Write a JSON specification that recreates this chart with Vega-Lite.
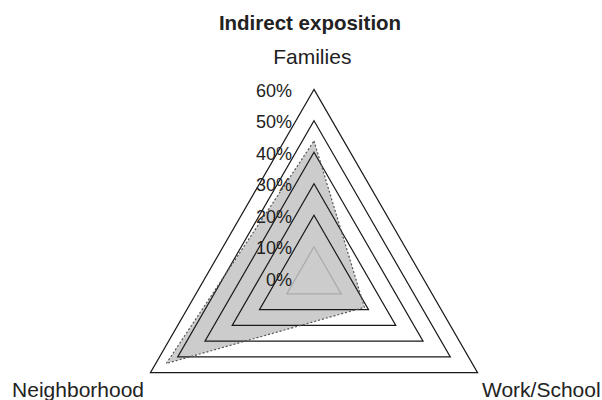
{
  "$schema": "https://vega.github.io/schema/vega-lite/v6.json",
  "width": 602,
  "height": 360,
  "autosize": {"type": "none"},
  "padding": {"top": 40, "left": 0, "right": 0, "bottom": 0},
  "background": "white",
  "title": {"text": "Indirect exposition", "font": "Liberation Sans", "fontSize": 20.5, "fontWeight": "bold", "color": "#222222", "anchor": "middle", "frame": "group", "dx": 9, "dy": 22, "offset": 12, "baseline": "alphabetic"},
  "config": {"view": {"stroke": null}, "text": {"font": "Liberation Sans", "color": "#222222"}},
  "datasets": {
    "axes": [
      {"axis": "Families", "angle": 90, "ord": 0},
      {"axis": "Work/School", "angle": -30, "ord": 1},
      {"axis": "Neighborhood", "angle": 210, "ord": 2}
    ],
    "scores": [
      {"axis": "Families", "value": 43.6},
      {"axis": "Work/School", "value": 18.5},
      {"axis": "Neighborhood", "value": 54.2}
    ],
    "grid": [
      {"level": 10, "axis": "Families"}, {"level": 10, "axis": "Work/School"}, {"level": 10, "axis": "Neighborhood"},
      {"level": 20, "axis": "Families"}, {"level": 20, "axis": "Work/School"}, {"level": 20, "axis": "Neighborhood"},
      {"level": 30, "axis": "Families"}, {"level": 30, "axis": "Work/School"}, {"level": 30, "axis": "Neighborhood"},
      {"level": 40, "axis": "Families"}, {"level": 40, "axis": "Work/School"}, {"level": 40, "axis": "Neighborhood"},
      {"level": 50, "axis": "Families"}, {"level": 50, "axis": "Work/School"}, {"level": 50, "axis": "Neighborhood"},
      {"level": 60, "axis": "Families"}, {"level": 60, "axis": "Work/School"}, {"level": 60, "axis": "Neighborhood"}
    ],
    "ticks": [
      {"level": 0, "label": "0%"}, {"level": 10, "label": "10%"}, {"level": 20, "label": "20%"},
      {"level": 30, "label": "30%"}, {"level": 40, "label": "40%"}, {"level": 50, "label": "50%"},
      {"level": 60, "label": "60%"}
    ]
  },
  "encoding": {
    "x": {"field": "px", "type": "quantitative", "scale": {"domain": [-99.75, 91.49], "nice": false, "zero": false}, "axis": null},
    "y": {"field": "py", "type": "quantitative", "scale": {"domain": [-38.69, 75.67], "nice": false, "zero": false}, "axis": null}
  },
  "layer": [
    {
      "data": {"name": "scores"},
      "transform": [
        {"lookup": "axis", "from": {"data": {"name": "axes"}, "key": "axis", "fields": ["angle", "ord"]}},
        {"calculate": "datum.value*cos(datum.angle*PI/180)", "as": "px"},
        {"calculate": "datum.value*sin(datum.angle*PI/180)", "as": "py"}
      ],
      "mark": {"type": "line", "interpolate": "linear-closed", "fill": "#cccccc", "stroke": null, "strokeWidth": 0},
      "encoding": {"order": {"field": "ord", "type": "quantitative"}}
    },
    {
      "data": {"name": "grid"},
      "transform": [
        {"lookup": "axis", "from": {"data": {"name": "axes"}, "key": "axis", "fields": ["angle", "ord"]}},
        {"calculate": "datum.level*cos(datum.angle*PI/180)", "as": "px"},
        {"calculate": "datum.level*sin(datum.angle*PI/180)", "as": "py"}
      ],
      "mark": {"type": "line", "interpolate": "linear-closed", "strokeWidth": 1.2},
      "encoding": {
        "detail": {"field": "level", "type": "nominal"},
        "order": {"field": "ord", "type": "quantitative"},
        "color": {"condition": {"test": "datum.level == 10", "value": "#aaaaaa"}, "value": "#1a1a1a"}
      }
    },
    {
      "data": {"name": "scores"},
      "transform": [
        {"lookup": "axis", "from": {"data": {"name": "axes"}, "key": "axis", "fields": ["angle", "ord"]}},
        {"calculate": "datum.value*cos(datum.angle*PI/180)", "as": "px"},
        {"calculate": "datum.value*sin(datum.angle*PI/180)", "as": "py"}
      ],
      "mark": {"type": "line", "interpolate": "linear-closed", "stroke": "#555555", "strokeWidth": 1.2, "strokeDash": [2, 2]},
      "encoding": {"order": {"field": "ord", "type": "quantitative"}}
    },
    {
      "data": {"name": "ticks"},
      "transform": [
        {"calculate": "0", "as": "px"},
        {"calculate": "datum.level", "as": "py"}
      ],
      "mark": {"type": "text", "align": "right", "baseline": "middle", "dx": -22, "dy": 2.5, "fontSize": 18},
      "encoding": {"text": {"field": "label", "type": "nominal"}}
    },
    {
      "data": {"name": "axes"},
      "transform": [
        {"filter": "datum.axis == 'Families'"},
        {"calculate": "60*cos(datum.angle*PI/180)", "as": "px"},
        {"calculate": "60*sin(datum.angle*PI/180)", "as": "py"}
      ],
      "mark": {"type": "text", "align": "center", "baseline": "alphabetic", "dx": -1.7, "dy": -25.3, "fontSize": 21},
      "encoding": {"text": {"field": "axis", "type": "nominal"}}
    },
    {
      "data": {"name": "axes"},
      "transform": [
        {"filter": "datum.axis == 'Neighborhood'"},
        {"calculate": "60*cos(datum.angle*PI/180)", "as": "px"},
        {"calculate": "60*sin(datum.angle*PI/180)", "as": "py"}
      ],
      "mark": {"type": "text", "align": "right", "baseline": "alphabetic", "dx": -6.4, "dy": 24, "fontSize": 21},
      "encoding": {"text": {"field": "axis", "type": "nominal"}}
    },
    {
      "data": {"name": "axes"},
      "transform": [
        {"filter": "datum.axis == 'Work/School'"},
        {"calculate": "60*cos(datum.angle*PI/180)", "as": "px"},
        {"calculate": "60*sin(datum.angle*PI/180)", "as": "py"}
      ],
      "mark": {"type": "text", "align": "left", "baseline": "alphabetic", "dx": 4.4, "dy": 24.7, "fontSize": 21},
      "encoding": {"text": {"field": "axis", "type": "nominal"}}
    }
  ]
}
